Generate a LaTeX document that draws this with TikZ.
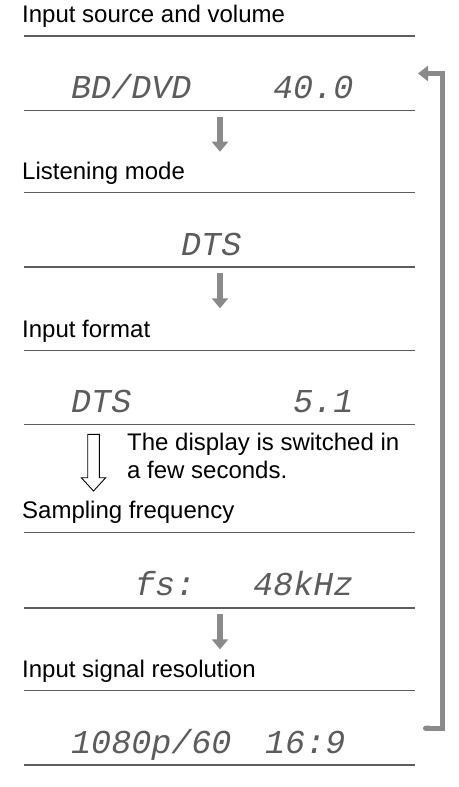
\documentclass[tikz,border=0pt]{standalone}
\usepackage{fontspec}
\setmainfont{Liberation Sans}
\newfontfamily\lcdfont{Liberation Mono}
\usetikzlibrary{arrows.meta}
\definecolor{flowgray}{HTML}{8A8A8A}
\definecolor{rulegray}{HTML}{5E5E5E}
\definecolor{lcdgray}{HTML}{5C5C5C}
\begin{document}
\begin{tikzpicture}[x=1pt,y=-1pt,
  head/.style={anchor=base west, inner sep=0pt, font=\fontsize{24}{28.3}\selectfont},
  lcd/.style={anchor=base west, inner sep=0pt, text=lcdgray, font=\lcdfont\itshape\fontsize{33.4}{36}\selectfont},
  rulel/.style={draw=rulegray, line width=1.4pt},
  garrow/.style={draw=flowgray, line width=6.5pt, -{Triangle[width=16pt,length=10pt]}},
  bracketline/.style={draw=flowgray, line width=5.3pt, line join=miter, {Round Cap[]}-{Triangle[width=15pt,length=10pt]}},
  hollow/.style={draw=black, line width=0.9pt, fill=white, line join=miter}
]
\useasboundingbox (0,0) rectangle (458,787);
\fill[white] (0,0) rectangle (458,787);

% headings
\node[head] (h1) at (22,23) {Input source and volume};
\node[head] (h2) at (22,179.5) {Listening mode};
\node[head] (h3) at (22,337.3) {Input format};
\node[head] (h4) at (22,518.3) {Sampling frequency};
\node[head] (h5) at (22,677.5) {Input signal resolution};

% rules
\foreach \yy in {36,110.7,192.7,267,350.7,424.3,532.7,608,690.7,765}
  \draw[rulel] (24,\yy) -- (415,\yy);

% display texts
\node[lcd] (d1a) at (71,98) {BD/DVD};
\node[lcd] (d1b) at (273,98) {40.0};
\node[lcd] (d2)  at (181,255) {DTS};
\node[lcd] (d3a) at (71,412) {DTS};
\node[lcd] (d3b) at (293,412) {5.1};
\node[lcd] (d4a) at (135,595) {fs:};
\node[lcd] (d4b) at (253,595) {48kHz};
\node[lcd] (d5a) at (71,753) {1080p/60};
\node[lcd] (d5b) at (265,753) {16:9};

% note
\node[head] (n1) at (127,450) {The display is switched in};
\node[head] (n2) at (127,478.3) {a few seconds.};

% gray arrows
\coordinate (a1s) at (220,116.7); \coordinate (a1e) at (220,151.7);
\coordinate (a2s) at (220,273.3); \coordinate (a2e) at (220,308.3);
\coordinate (a3s) at (220,614.3); \coordinate (a3e) at (220,649.3);
\draw[garrow] (a1s) -- (a1e);
\draw[garrow] (a2s) -- (a2e);
\draw[garrow] (a3s) -- (a3e);

% hollow arrow
\draw[hollow] (87.7,434.3) -- (99.3,434.3) -- (99.3,477.7) -- (105.7,477.7)
  -- (93.5,491) -- (81.3,477.7) -- (87.7,477.7) -- cycle;

% return bracket
\coordinate (bs) at (423,728.3);
\coordinate (bc1) at (442.7,728.3);
\coordinate (bc2) at (442.7,73.5);
\coordinate (be) at (418,73.5);
\draw[bracketline] (bs) -- (bc1) -- (bc2) -- (be);
\end{tikzpicture}
\end{document}
